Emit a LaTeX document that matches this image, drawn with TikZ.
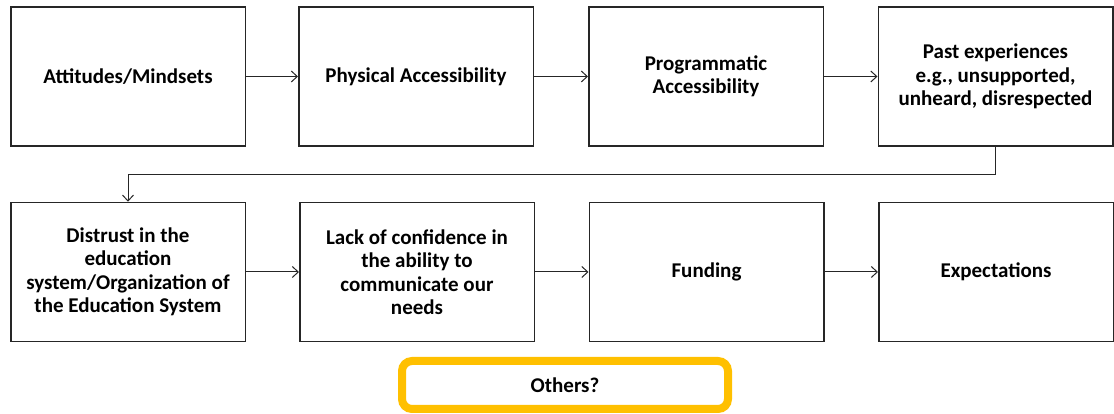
\documentclass[tikz,border=0pt]{standalone}
\usepackage{fontspec}
\setmainfont{Carlito}
\usetikzlibrary{arrows.meta,positioning}
\begin{document}
\begin{tikzpicture}[x=1pt,y=1pt,
  box/.style={draw=black!85,line width=1.5pt,minimum width=234.5pt,minimum height=139pt,
    align=center,inner sep=2pt,font=\fontsize{21}{23.5}\selectfont\bfseries},
  conn/.style={draw=black!85,line width=1pt,-{Straight Barb[length=6pt,width=11pt,line width=1pt]}},
  otherbox/.style={draw={rgb,255:red,255;green,192;blue,0},line width=8pt,rounded corners=10pt,
    minimum width=326pt,minimum height=48pt,font=\fontsize{21}{23.5}\selectfont\bfseries}]
\useasboundingbox (0,0) rectangle (1114,414);
\node[box] (a) at (128,337.5) {Attitudes/Mindsets};
\node[box] (b) at (416,337.5) {Physical Accessibility};
\node[box] (c) at (706,337.5) {Programmatic\\Accessibility};
\node[box] (d) at (995.5,337.5) {Past experiences\\e.g., unsupported,\\unheard, disrespected};
\node[box] (e) at (128,142) {Distrust in the\\education\\system/Organization of\\the Education System};
\node[box] (f) at (417,142) {Lack of confidence in\\the ability to\\communicate our\\needs};
\node[box] (g) at (706.5,142) {Funding};
\node[box] (h) at (996,142) {Expectations};
\node[otherbox] (o) at (565,29) {Others?};
\coordinate (k1) at (995.5,239);
\coordinate (k2) at (128,239);
\draw[conn] (a) -- (b);
\draw[conn] (b) -- (c);
\draw[conn] (c) -- (d);
\draw[conn] (d.south) -- (k1) -- (k2) -- (e.north);
\draw[conn] (e) -- (f);
\draw[conn] (f) -- (g);
\draw[conn] (g) -- (h);
\end{tikzpicture}
\end{document}
